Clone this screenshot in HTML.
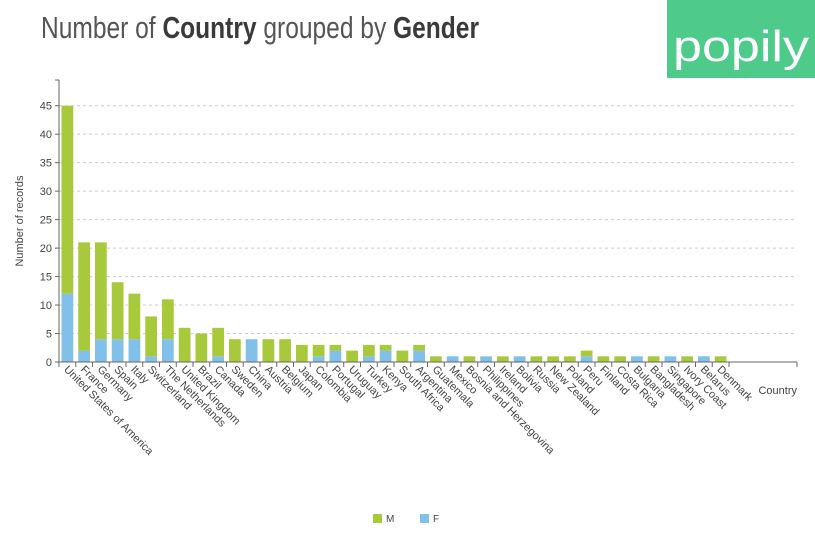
<!DOCTYPE html>
<html><head><meta charset="utf-8"><style>
body{margin:0;background:#fff;width:815px;height:533px;overflow:hidden;font-family:"Liberation Sans",sans-serif}
</style></head><body>
<svg id="c" width="815" height="533" xmlns="http://www.w3.org/2000/svg">
<text x="41" y="38" font-size="31" fill="#555" textLength="438" lengthAdjust="spacingAndGlyphs"><tspan font-weight="normal">Number of </tspan><tspan font-weight="bold" fill="#3a3a3a">Country</tspan><tspan> grouped by </tspan><tspan font-weight="bold" fill="#3a3a3a">Gender</tspan></text>
<g>
<rect x="667" y="0" width="148" height="78" fill="#4ecb8a"/>
<text x="741" y="61" font-size="44" fill="#fff" text-anchor="middle" textLength="136" lengthAdjust="spacingAndGlyphs">popily</text>
</g>
<text transform="translate(23,221) rotate(-90)" font-size="11" fill="#444" text-anchor="middle">Number of records</text>
<text x="797" y="394" font-size="11" fill="#444" text-anchor="end">Country</text>
<g id="grid"></g><g id="bars"></g><g id="axes"></g>
<g>
<rect x="373" y="514" width="9" height="9" fill="#a8c93c"/>
<text x="386" y="522" font-size="10" fill="#444">M</text>
<rect x="420" y="514" width="9" height="9" fill="#80c0e9"/>
<text x="433" y="522" font-size="10" fill="#444">F</text>
</g>
</svg>
<script>
const categories=["United States of America","France","Germany","Spain","Italy","Switzerland","The Netherlands","United Kingdom","Brazil","Canada","Sweden","China","Austria","Belgium","Japan","Colombia","Portugal","Uruguay","Turkey","Kenya","South Africa","Argentina","Guatemala","Mexico","Bosnia and Herzegovina","Philippines","Ireland","Bolivia","Russia","New Zealand","Poland","Peru","Finland","Costa Rica","Bulgaria","Bangladesh","Singapore","Ivory Coast","Belarus","Denmark"];
const femaleValues=[12,2,4,4,4,1,4,0,0,1,0,4,0,0,0,1,2,0,1,2,0,2,0,1,0,1,0,1,0,0,0,1,0,0,1,0,1,0,1,0];
const maleValues=[33,19,17,10,8,7,7,6,5,5,4,0,4,4,3,2,1,2,2,1,2,1,1,0,1,0,1,0,1,1,1,1,1,1,0,1,0,1,0,1];
const yTicks=[0,5,10,15,20,25,30,35,40,45];
const NS="http://www.w3.org/2000/svg";
const x0=59,band=16.75,y0=362,yTop=105.7,yMax=45;
const y=v=>y0-(y0-yTop)*v/yMax;
const xb=i=>x0+i*band;
function mk(tag,attrs,parent){const e=document.createElementNS(NS,tag);for(const k in attrs)e.setAttribute(k,attrs[k]);parent.appendChild(e);return e;}
const grid=document.getElementById('grid'),bars=document.getElementById('bars'),axes=document.getElementById('axes');
yTicks.forEach(t=>{
  if(t>0){const l=mk('line',{x1:x0,x2:797,y1:y(t),y2:y(t),stroke:'#ccc','stroke-dasharray':'3,3'},grid);
  
  }
  const tk=mk('line',{x1:x0-4,x2:x0,y1:y(t),y2:y(t),stroke:'#666'},axes);
  
  
  const tx=mk('text',{x:x0-7,y:y(t)+4,'font-size':11,fill:'#444','text-anchor':'end'},axes);
  tx.textContent=t;
  
  
});
const ya=mk('line',{x1:x0,x2:x0,y1:80,y2:y0,stroke:'#666'},axes);


mk('line',{x1:x0-4,x2:x0,y1:80,y2:80,stroke:'#666'},axes);
const xa=mk('line',{x1:x0,x2:797,y1:y0,y2:y0,stroke:'#666'},axes);


mk('line',{x1:797,x2:797,y1:y0,y2:y0+5,stroke:'#666'},axes);
categories.forEach((c,i)=>{
  const bx=xb(i)+2.5,bw=band-5;
  const f=femaleValues[i],m=maleValues[i];
  if(f>0){const r=mk('rect',{x:bx,y:y(f),width:bw,height:y0-y(f),fill:'#80c0e9'},bars);
  
  }
  if(m>0){const r=mk('rect',{x:bx,y:y(f+m),width:bw,height:y(f)-y(f+m),fill:'#a8c93c'},bars);
  
  }
  const tk=mk('line',{x1:xb(i),x2:xb(i),y1:y0,y2:y0+5,stroke:'#666'},axes);
  
  
  if(i==categories.length-1)mk('line',{x1:xb(i+1),x2:xb(i+1),y1:y0,y2:y0+5,stroke:'#666'},axes);
  const cx=xb(i)+band/2-4,cy=y0+8;
  const t=mk('text',{x:cx,y:cy,'font-size':11,fill:'#444',transform:`rotate(45 ${cx} ${cy})`},axes);
  t.textContent=c;
  
  
});
</script>
</body></html>
